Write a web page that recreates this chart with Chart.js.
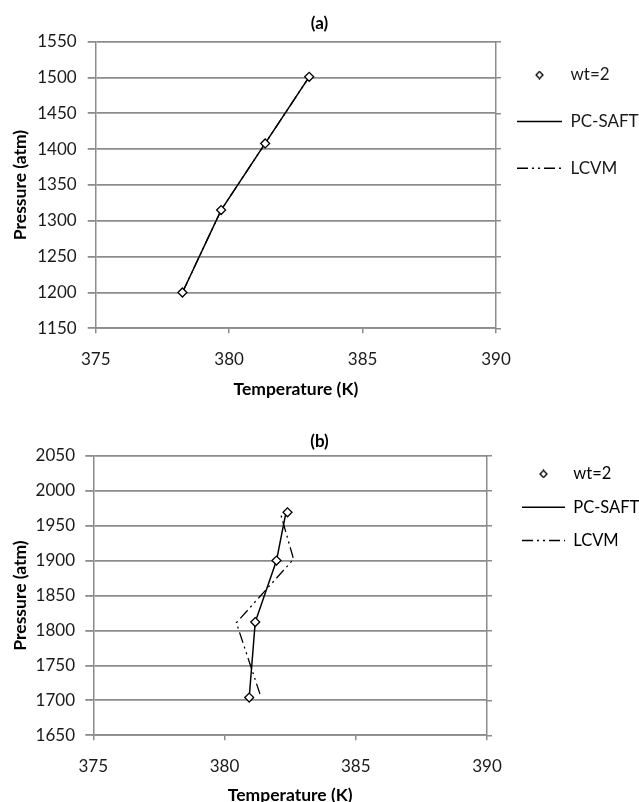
<!DOCTYPE html>
<html>
<head>
<meta charset="utf-8">
<script src="https://cdn.jsdelivr.net/npm/chart.js@4.4.1/dist/chart.umd.min.js"></script>
<style>
    html, body { margin: 0; padding: 0; background: #fff; }
    body { width: 639px; height: 802px; overflow: hidden; position: relative; }
    canvas { position: absolute; left: 0; }
    #chartA { top: 0; }
    #chartB { top: 400px; }
</style>
</head>
<body>
<canvas id="chartA" width="639" height="400"></canvas>
<canvas id="chartB" width="639" height="406"></canvas>
<script>
    // series names (legend)
    var seriesNames = ['wt=2', 'PC-SAFT', 'LCVM'];

    // shared x axis ticks
    var xTicks = [375, 380, 385, 390];

    // (a) data
    var yTicksA = [1150, 1200, 1250, 1300, 1350, 1400, 1450, 1500, 1550];
    var expTempA = [378.25, 379.7, 381.35, 383.0];
    var expPresA = [1200, 1315, 1408, 1501];
    var saftTempA = [378.25, 379.7, 381.35, 383.0];
    var saftPresA = [1200, 1315, 1408, 1501];
    var lcvmTempA = [378.25, 379.7, 381.35, 383.0];
    var lcvmPresA = [1200, 1315, 1408, 1501];

    // (b) data
    var yTicksB = [1650, 1700, 1750, 1800, 1850, 1900, 1950, 2000, 2050];
    var expTempB = [380.94, 381.17, 381.98, 382.40];
    var expPresB = [1704, 1812, 1900, 1969];
    var saftTempB = [380.94, 381.17, 381.98, 382.32];
    var saftPresB = [1704, 1812, 1900, 1965];
    var lcvmTempB = [381.35, 380.45, 382.63, 382.12];
    var lcvmPresB = [1709, 1811, 1902, 1969];

    var gridGray = '#8c8c8c';
    Chart.defaults.font.family = 'Lato';
    Chart.defaults.color = '#1a1a1a';

    function pts(xs, ys) {
        return xs.map(function (x, i) { return { x: x, y: ys[i] }; });
    }

    // small diamond used as the legend symbol of the measured points
    function diamondIcon() {
        var c = document.createElement('canvas');
        c.width = 9; c.height = 9;
        var g = c.getContext('2d');
        g.beginPath();
        g.moveTo(4.5, 1); g.lineTo(8, 4.5); g.lineTo(4.5, 8); g.lineTo(1, 4.5);
        g.closePath();
        g.fillStyle = '#fff'; g.fill();
        g.lineWidth = 1.3; g.strokeStyle = '#000'; g.stroke();
        return c;
    }

    function plot(id, title, exp, saft, lcvm, yTicks, lay) {
        var icon = diamondIcon();
        var yMin = yTicks[0], yMax = yTicks[yTicks.length - 1];
        var yStep = yTicks[1] - yTicks[0];
        var xMax = xTicks[xTicks.length - 1];
        var titleFont = { size: 17, weight: 'bold', lineHeight: 1.2 };
        var axisTitleFont = { size: 17.5, weight: 'bold', lineHeight: 1.2 };
        var plain = function (v) { return String(v); };

        return new Chart(document.getElementById(id), {
            type: 'scatter',
            data: {
                datasets: [
                    {
                        label: seriesNames[0],
                        data: pts(exp[0], exp[1]),
                        showLine: false,
                        pointStyle: 'rectRot',
                        pointRadius: 4.5,
                        pointHoverRadius: 4.5,
                        pointBackgroundColor: '#fff',
                        pointBorderColor: '#000',
                        pointBorderWidth: 1.3
                    },
                    {
                        label: seriesNames[1],
                        data: pts(saft[0], saft[1]),
                        showLine: true,
                        borderColor: '#000',
                        borderWidth: 1.5,
                        pointRadius: 0,
                        tension: 0
                    },
                    {
                        label: seriesNames[2],
                        data: pts(lcvm[0], lcvm[1]),
                        showLine: true,
                        borderColor: '#000',
                        borderWidth: 1.3,
                        borderDash: [11, 4, 2, 4, 2, 4],
                        pointRadius: 0,
                        tension: 0
                    }
                ]
            },
            options: {
                responsive: false,
                animation: false,
                devicePixelRatio: 1,
                layout: { padding: 0 },
                plugins: {
                    tooltip: { enabled: false },
                    title: {
                        display: true,
                        text: title,
                        color: '#000',
                        font: titleFont,
                        padding: lay.titlePad
                    },
                    legend: {
                        position: 'right',
                        align: 'start',
                        fullSize: false,
                        maxWidth: lay.legendW,
                        title: {
                            display: lay.legendGap > 0,
                            text: '',
                            padding: 0,
                            font: { size: lay.legendGap || 1, lineHeight: 1 }
                        },
                        labels: {
                            usePointStyle: true,
                            pointStyleWidth: lay.boxW,
                            padding: lay.legendPad,
                            color: '#000',
                            font: { size: lay.legendSize, lineHeight: lay.legendLH },
                            generateLabels: function (chart) {
                                return chart.data.datasets.map(function (ds, i) {
                                    return {
                                        text: [ds.label],
                                        datasetIndex: i,
                                        pointStyle: i === 0 ? icon : 'line',
                                        lineWidth: 1.5,
                                        lineDash: ds.borderDash || [],
                                        strokeStyle: '#000',
                                        fillStyle: '#fff',
                                        hidden: false
                                    };
                                });
                            }
                        }
                    }
                },
                scales: {
                    x: {
                        type: 'linear',
                        min: xTicks[0],
                        max: xMax,
                        afterFit: function (s) { s.height = lay.xH; },
                        ticks: { stepSize: xTicks[1] - xTicks[0], padding: 16, maxRotation: 0, font: { size: 17 }, callback: plain },
                        grid: {
                            color: function (c) { return c.tick && c.tick.value === xMax ? gridGray : 'rgba(0,0,0,0)'; },
                            tickColor: gridGray,
                            lineWidth: 1.5,
                            tickLength: 5
                        },
                        border: { display: true, color: gridGray, width: 1.8 },
                        title: {
                            display: true,
                            text: 'Temperature (K)',
                            color: '#000',
                            font: axisTitleFont,
                            padding: { top: 0, bottom: 0.5 }
                        }
                    },
                    y: {
                        type: 'linear',
                        min: yMin,
                        max: yMax,
                        afterFit: function (s) { s.width = lay.yW; },
                        ticks: { stepSize: yStep, padding: lay.yPad, font: { size: 17 }, callback: plain },
                        grid: { color: gridGray, lineWidth: 1.8, tickLength: 8 },
                        border: { display: true, color: gridGray, width: 1.5 },
                        title: {
                            display: true,
                            text: 'Pressure (atm)',
                            color: '#000',
                            font: axisTitleFont,
                            padding: { top: 9.5, bottom: 0 }
                        }
                    },
                    y2: {
                        type: 'linear',
                        position: 'right',
                        min: yMin,
                        max: yMax,
                        afterFit: function (s) { s.width = lay.y2W; },
                        ticks: { display: false, stepSize: yStep },
                        grid: { drawOnChartArea: false, color: gridGray, lineWidth: 1.5, tickLength: 5 },
                        border: { display: false }
                    }
                }
            }
        });
    }

    plot('chartA', '(a)',
        [expTempA, expPresA], [saftTempA, saftPresA], [lcvmTempA, lcvmPresA], yTicksA,
        { titlePad: { top: 13, bottom: 8.3 }, yW: 95.7, yPad: 11, xH: 71.7, y2W: 5,
          legendW: 138, legendPad: 16, legendSize: 17, legendLH: 1.8, legendGap: 8.8, boxW: 45 });

    plot('chartB', '(b)',
        [expTempB, expPresB], [saftTempB, saftPresB], [lcvmTempB, lcvmPresB], yTicksB,
        { titlePad: { top: 31.5, bottom: 3.8 }, yW: 93.3, yPad: 10.3, xH: 70.7, y2W: 25,
          legendW: 127, legendPad: 10, legendSize: 16.5, legendLH: 1.41, legendGap: 0, boxW: 43 });
</script>
</body>
</html>
